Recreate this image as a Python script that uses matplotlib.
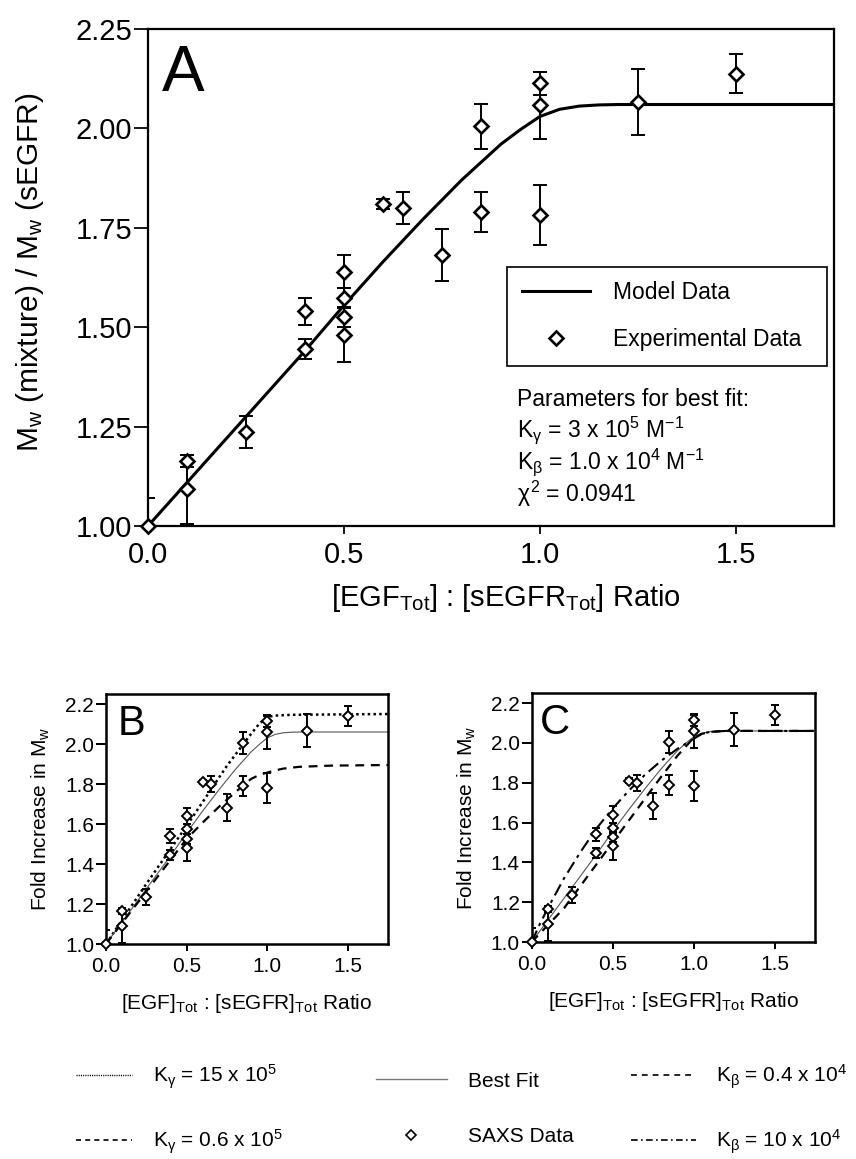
import matplotlib
matplotlib.use('Agg')
import matplotlib.pyplot as plt
from matplotlib.lines import Line2D

plt.rcParams['font.family'] = ['Liberation Sans', 'DejaVu Sans']
plt.rcParams['mathtext.fontset'] = 'custom'
plt.rcParams['mathtext.rm'] = 'Liberation Sans'
plt.rcParams['mathtext.it'] = 'Liberation Sans'
plt.rcParams['mathtext.bf'] = 'Liberation Sans:bold'

# SAXS measurements (ratio EGF:sEGFR, fold increase in Mw, error)
ratio = [0.0, 0.1, 0.1, 0.25, 0.4, 0.4, 0.5, 0.5, 0.5, 0.5,
         0.6, 0.65, 0.75, 0.85, 0.85, 1.0, 1.0, 1.0, 1.25, 1.5]
fold = [1.000, 1.164, 1.092, 1.236, 1.540, 1.446, 1.640, 1.573, 1.526, 1.481,
        1.810, 1.799, 1.682, 2.005, 1.790, 2.113, 2.058, 1.782, 2.066, 2.138]
fold_err = [0.070, 0.015, 0.087, 0.040, 0.034, 0.025, 0.042, 0.025, 0.025, 0.068,
            0.012, 0.040, 0.066, 0.057, 0.050, 0.028, 0.085, 0.075, 0.083, 0.050]

# best fit model (Kgamma = 3e5, Kbeta = 1e4)
fit_x = [0, 0.1, 0.2, 0.3, 0.4, 0.5, 0.6, 0.7, 0.8, 0.85, 0.9, 0.95,
         1.0, 1.05, 1.1, 1.15, 1.2, 1.3, 1.5, 1.75]
fit_y = [1.0, 1.11, 1.22, 1.33, 1.44, 1.555, 1.665, 1.77, 1.87, 1.915, 1.96, 1.997,
         2.03, 2.048, 2.056, 2.059, 2.06, 2.06, 2.06, 2.06]

# panel B: varying Kgamma
kg15_x = [0, 0.25, 0.5, 0.75, 0.9, 0.95, 1.0, 1.05, 1.15, 1.75]
kg15_y = [1.0, 1.30, 1.59, 1.89, 2.05, 2.10, 2.135, 2.142, 2.146, 2.15]
kg06_x = [0, 0.1, 0.2, 0.3, 0.4, 0.5, 0.6, 0.7, 0.8, 0.9, 0.95,
          1.0, 1.05, 1.1, 1.2, 1.4, 1.75]
kg06_y = [1.0, 1.105, 1.21, 1.315, 1.42, 1.525, 1.607, 1.685, 1.757, 1.825, 1.845,
          1.857, 1.868, 1.877, 1.886, 1.892, 1.895]

# panel C: varying Kbeta
kb04_x = [0, 0.1, 0.2, 0.3, 0.4, 0.5, 0.6, 0.7, 0.8, 0.9, 1.0,
          1.05, 1.1, 1.2, 1.75]
kb04_y = [1.0, 1.085, 1.17, 1.28, 1.39, 1.50, 1.61, 1.72, 1.83, 1.935, 2.025,
          2.045, 2.055, 2.06, 2.06]
kb10_x = [0, 0.05, 0.1, 0.2, 0.3, 0.4, 0.5, 0.6, 0.7, 0.8, 0.9, 1.0,
          1.05, 1.1, 1.2, 1.75]
kb10_y = [1.0, 1.09, 1.17, 1.32, 1.45, 1.57, 1.67, 1.76, 1.84, 1.91, 1.97, 2.02,
          2.045, 2.055, 2.06, 2.06]

DOTTED = (0, (1, 1.3))
DASHED = (0, (4, 3))
DASHDOT = (0, (6, 2.5, 1.5, 2.5))


def draw_points(ax, ms, mew, elw, cap):
    ax.errorbar(ratio, fold, yerr=fold_err, fmt='none', ecolor='black',
                elinewidth=elw, capsize=cap, capthick=elw, zorder=3)
    ax.plot(ratio, fold, ls='none', marker='D', ms=ms, mfc='white', mec='black',
            mew=mew, zorder=4, clip_on=False)


def style_axes(ax, labelsize, spine_w, xlen, ylen, xpad):
    ax.set_xlim(0, 1.75)
    ax.set_ylim(1.0, 2.25)
    for s in ax.spines.values():
        s.set_linewidth(spine_w)
    ax.tick_params(direction='out', width=spine_w * 0.8, labelsize=labelsize)
    ax.tick_params(axis='x', length=xlen, pad=xpad)
    ax.tick_params(axis='y', length=ylen, pad=1.5)
    ax.set_xticks([0.0, 0.5, 1.0, 1.5])
    ax.xaxis.set_major_formatter('{x:.1f}')


fig = plt.figure(figsize=(8.56, 11.59), dpi=100)

# ---- panel A ----
axA = fig.add_axes([0.1729, 0.5462, 0.8014, 0.4288])
axA.plot(fit_x, fit_y, color='black', lw=2.2, zorder=2)
draw_points(axA, 7.5, 1.9, 1.4, 5)
style_axes(axA, 21, 1.6, 6, 10, 5)
axA.set_yticks([1.00, 1.25, 1.50, 1.75, 2.00, 2.25])
axA.yaxis.set_major_formatter('{x:.2f}')
axA.set_ylabel('M$_w$ (mixture) / M$_w$ (sEGFR)', fontsize=21.5)
axA.yaxis.set_label_coords(-0.148, 0.51)
axA.set_xlabel('[EGF$_{Tot}$] : [sEGFR$_{Tot}$] Ratio', fontsize=21)
axA.xaxis.set_label_coords(0.522, -0.112)
axA.text(0.02, 0.97, 'A', transform=axA.transAxes, fontsize=46, va='top', ha='left')

handles = [Line2D([], [], color='black', lw=2.2),
           Line2D([], [], ls='none', marker='D', ms=7.5, mfc='white', mec='black', mew=1.9)]
leg = axA.legend(handles, ['Model Data', 'Experimental Data'], loc='upper left',
                 bbox_to_anchor=(0.523, 0.322, 0.467, 0.2), mode='expand',
                 fontsize=16.5, fancybox=False, edgecolor='black', framealpha=1,
                 handlelength=3.0, handletextpad=1.0, labelspacing=1.05,
                 borderpad=0.65, borderaxespad=0)
leg.get_frame().set_linewidth(1.2)

params = ['Parameters for best fit:',
          r'K$_\gamma$ = 3 x 10$^5$ M$^{-1}$',
          r'K$_\beta$ = 1.0 x 10$^4$ M$^{-1}$',
          r'$\chi^2$ = 0.0941']
for txt, yy in zip(params, [0.2535, 0.193, 0.129, 0.064]):
    axA.text(0.538, yy, txt, transform=axA.transAxes, fontsize=16.5, va='center', ha='left')

# ---- panels B and C ----
axB = fig.add_axes([0.1238, 0.1855, 0.3294, 0.2157])
axC = fig.add_axes([0.6211, 0.1872, 0.331, 0.2148])

axB.plot(kg15_x, kg15_y, color='black', lw=1.8, ls=DOTTED, zorder=2)
axB.plot(fit_x, fit_y, color='#555555', lw=0.8, zorder=2)
axB.plot(kg06_x, kg06_y, color='black', lw=1.6, ls=DASHED, zorder=2)

axC.plot(fit_x, fit_y, color='#555555', lw=0.8, zorder=2)
axC.plot(kb04_x, kb04_y, color='black', lw=1.6, ls=DASHED, zorder=2)
axC.plot(kb10_x, kb10_y, color='black', lw=1.5, ls=DASHDOT, zorder=2)

for ax, letter, lx in [(axB, 'B', 0.04), (axC, 'C', 0.03)]:
    draw_points(ax, 5.5, 1.4, 1.4, 3)
    style_axes(ax, 15, 1.8, 5, 7, 4)
    ax.set_yticks([1.0, 1.2, 1.4, 1.6, 1.8, 2.0, 2.2])
    ax.yaxis.set_major_formatter('{x:.1f}')
    ax.set_ylabel('Fold Increase in M$_w$', fontsize=15)
    ax.yaxis.set_label_coords(-0.19, 0.5)
    ax.set_xlabel('[EGF]$_{Tot}$ : [sEGFR]$_{Tot}$ Ratio', fontsize=15, labelpad=12)
    ax.text(lx, 0.96, letter, transform=ax.transAxes, fontsize=30, va='top', ha='left')

# ---- shared legend for B and C ----
col1 = [Line2D([], [], color='black', lw=1.0, ls=(0, (0.8, 0.8))),
        Line2D([], [], color='black', lw=1.2, ls=(0, (3, 2.5)))]
col2 = [Line2D([], [], color='#777777', lw=1.0),
        Line2D([], [], ls='none', marker='D', ms=5, mfc='white', mec='black', mew=1.2)]
col3 = [Line2D([], [], color='black', lw=1.2, ls=(0, (3.5, 3))),
        Line2D([], [], color='black', lw=1.2, ls=(0, (4, 2, 1, 2)))]
labels1 = [r'K$_\gamma$ = 15 x 10$^5$', r'K$_\gamma$ = 0.6 x 10$^5$']
labels2 = ['Best Fit', 'SAXS Data']
labels3 = [r'K$_\beta$ = 0.4 x 10$^4$', r'K$_\beta$ = 10 x 10$^4$']
for hs, ls_, x0, hl in [(col1, labels1, 76, 2.7), (col2, labels2, 376, 3.4), (col3, labels3, 631, 3.1)]:
    fig.legend(hs, ls_, loc='center left', bbox_to_anchor=(x0 / 856, 1 - 1109 / 1159),
               frameon=False, fontsize=15, handlelength=hl, handletextpad=1.0,
               labelspacing=1.75, borderpad=0, borderaxespad=0)

fig.savefig('out.png', dpi=100)
